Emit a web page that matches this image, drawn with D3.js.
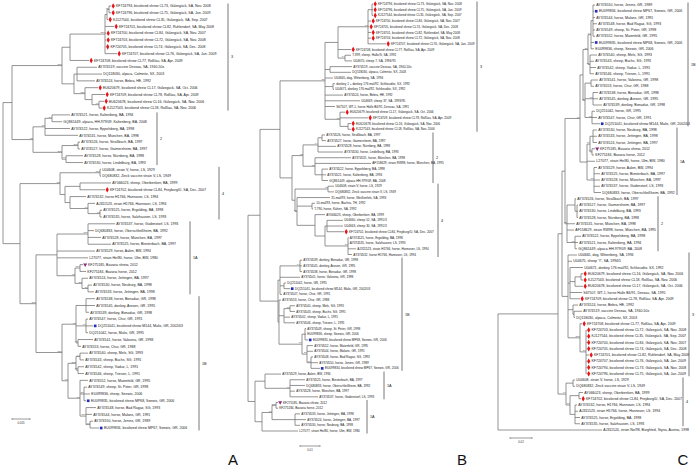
<!DOCTYPE html>
<html><head><meta charset="utf-8">
<script src="https://cdn.jsdelivr.net/npm/d3@7"></script>
<style>body{margin:0;background:#fff}svg{display:block}</style>
</head><body>
<svg id="chart" width="699" height="469"></svg>
<script>
// ---------------- DATA ----------------
const leavesA = [
"KF724794, bicolored shrew CL73, Gülzegück, SA, Nov. 2008","KF724796, bicolored shrew CL75, Gülzegück, SA, Jan. 2009","KJ127544, bicolored shrew CL35, Gülzegück, SA, Sep. 2007","KF724701, bicolored shrew CL82, Ruhlendorf, SA, May 2008","KF724700, bicolored shrew CL84, Gülzegück, SA, Nov. 2007","KF724703, bicolored shrew CL72, Gülzegück, SA, Nov. 2008","KF724705, bicolored shrew CL74, Gülzegück, SA, Dec. 2008","KF724707, bicolored shrew CL76, Gülzegück, SA, Jan. 2009","KF724708, bicolored shrew CL77, Roßlau, SA, Apr. 2009",
"AY374519, vaccine Dessau, SA, 1940-50s","DQ118030, alpaca, Colmnitz, SX, 2003","AY374524, horse, Bebra, HE, 1992",
"EU620679, bicolored shrew CL17, Gülzegück, SA, Oct. 2006","KF724709, bicolored shrew CL78, Roßlau, SA, Apr. 2009","EU620678, bicolored shrew CL16, Gülzegück, SA, Nov. 2006","KJ127543, bicolored shrew CL18, Roßlau, SA, Nov. 2006",
"AY374521, horse, Kaltenberg, BA, 1994","GQ861449, alpaca, HH-979/09, Kaltenberg, BA, 2008","AY374522, horse, Eppelsberg, BA, 1998","AY374531, horse, München, BA, 1998","AY374526, horse, Straßbach, BA, 1997","AY374527, horse, Gaimersheim, BA, 1997","AY374528, horse, Nürnberg, BA, 1998","AY374530, horse, Lindelburg, BA, 1993",
"U04608, strain V, horse, LS, 1929","DQ680832, Zinck vaccine strain V, LS, 1949","AY066023, sheep, Oberbenken, BA, 1999","KF724702, bicolored shrew CL84, Freyburg/U, SA, Dec. 2007","AY374532, horse H1766, Hannover, LS, 1994","AJ311523, strain H1766, Hannover, LS, 1994","AY374525, horse, Ergolding, BA, 1998","AY374535, horse, Salzhausen, LS, 1993",
"AY374537, horse, Güdenstorf, LS, 1993","DQ680833, horse, Oberschleißheim, BA, 1992","AY374528, horse, München, BA, 1997","AY374525, horse, Biesterbach, BA, 1997","AY374529, horse, Aalen, BW, 1994","L27077, strain He/80, horse, Ulm, BW, 1980","KF275185, Bavaria shrew, 2012","KF275184, Bavaria horse, 2012","AY374524, horse, Jettingen, BA, 1997","AY374530, horse, Neuburg, BA, 1998","AY374533, horse, Jettingen, BA, 1998",
"AY374538, horse, Bonaduz, GR, 1998","AY374545, donkey, Arosen, GR, 1995","AY374539, donkey, Bonaduz, GR, 1998","AY374547, horse, Chur, GR, 1991","DQ251041, bicolored shrew M144, Malix, GR, 2002/03","DQ251042, horse, Malix, GR, 1995","AY374541, horse, Valosina, GR, 1998","AY374553, horse, Chur, GR, 1988","AY374540, sheep, Mels, SG, 1993","AY374543, sheep, Buchs, SG, 1991","AY374542, sheep, Vaduz, L, 1991","AY374546, sheep, Triesen, L, 1991","AY374552, horse, Maienfeld, GR, 1995","AY374549, sheep, St. Peter, GR, 1998","EU099836, sheep, Seewis, 2006","EU099835, bicolored shrew MP68, Seewis, GR, 2006","AY374548, horse, Bad Ragaz, SG, 1993","AY374544, horse, Malans, GR, 1991","AY374550, horse, Jenins, GR, 1989","EU099834, bicolored shrew MP67, Seewis, GR, 2006"];
const redA = [1,2,3,4,5,6,7,8,9,13,14,15,16,28];
const blueA = [48,59,63];
const purpleA = [39];
const treeA = "((" +
 "(((((1:2,2:2)70:2,3:1):2,4:9,5:1,6:1,7:0.5,8:12)100:35,9:19):8,((10:20,11:25,12:18):3,(13:13,(14:13,(15:5,16:3)99:7):7)100:11):12)100" +
 ":50," +
 "(((17:18,18:10)84:7,19:25,20:33)76:12,((21:2,22:2)100:16,(23:17,24:17)77:4)100:29)98" +
 ":21):9,(" +
 "((25:1,26:1)100:40,((27:31,28:25):15,(29:16,(30:7,(31:2,32:2)90:12)99:18):5):5)83" +
 ":40,(" +
 "((33:27,34:6,35:13,36:23)100:31,37:38,38:31,((39:3,40:6)100:5,(41:6,(42:4,43:6)79:6)53:7)98:18)" +
 ":21," +
 "(((44:9,45:9,46:3):10,(47:2,48:7,49:2)99:10,(50:15,51:3)97:2)93:14,(((52:8,53:4)94:4,(54:6,55:6)75:2)100:8,(56:8,(57:3,58:6,59:2)86:4,(60:10,61:6,(62:3,63:9)77:4)100:6)97:12)97:6)100" +
 ":26)100:16):17);";
const cladesA = [["3",1,16],["2",17,24],["4",25,32],["1A",33,43],["1B",44,63]];

const leavesB = [
"KF724794, bicolored shrew CL73, Gülzegück, SA, Nov. 2008","KF724796, bicolored shrew CL75, Gülzegück, SA, Jan. 2009","KJ127544, bicolored shrew CL35, Gülzegück, SA, Sep. 2007","KF724700, bicolored shrew CL84, Gülzegück, SA, Nov. 2007","KF724705, bicolored shrew CL74, Gülzegück, SA, Dec. 2008","KF724701, bicolored shrew CL82, Ruhlendorf, SA, May 2008","KF724703, bicolored shrew CL72, Gülzegück, SA, Nov. 2008","KF724707, bicolored shrew CL76, Gülzegück, SA, Jan. 2009","KF724708, bicolored shrew CL77, Roßlau, SA, Apr. 2009",
"T.399, sheep, Halle/S, SA, 1992","U04670, sheep 7, SA, 1994/95","AY374519, vaccine Dessau, SA, 1940-50s","DQ118030, alpaca, Colmnitz, SX, 2003","U04665, dog, Wittenberg, SA, 1994","donkey 1 + donkey 176 mal/92, Schkeuditz, SX, 1992","U04671, donkey 176 mal/92, Schkeuditz, SX, 1992","AY374524, horse, Bebra, HE, 1992","U04669, sheep 37, SA, 1993/95","S67507, WT-1, horse Halle B4/91, Dessau, SA, 1991",
"EU620679, bicolored shrew CL17, Gülzegück, SA, Oct. 2006","KF724709, bicolored shrew CL78, Roßlau, SA, Apr. 2009","EU620678, bicolored shrew CL16, Gülzegück, SA, Nov. 2006","KJ127543, bicolored shrew CL18, Roßlau, SA, Nov. 2006",
"AY374526, horse, Straßbach, BA, 1997","AY374527, horse, Gaimersheim, BA, 1997","AY374528, horse, Nürnberg, BA, 1998","AY374530, horse, Lindelburg, BA, 1993","AY374531, horse, München, BA, 1998","AF158629, strain RW98, horse, München, BA, 1995","AY374522, horse, Eppelsberg, BA, 1998","AY374521, horse, Kaltenberg, BA, 1994","GQ861449, alpaca HH-979/09, BA, 2008",
"U04608, strain V, horse, LS, 1929","DQ680832, Zinck vaccine strain V, LS, 1949","31-mal/93, horse, Weißenfels, SA, 1993","10-mal/93, horse, Bachra, TH, 1992","T.790, horse, Kähen, SA, 1992","AY066023, sheep, Oberbenken, BA, 1999","U04660, sheep 52, SA, 1991/3","U04663, sheep 30, SA, 1991/3","KF724702, bicolored shrew CL84, Freyburg/U, SA, Dec. 2007","AY374525, horse, Ergolding, BA, 1998","AY374535, horse, Salzhausen, LS, 1993","AJ311523, strain H1766, horse, Hannover, LS, 1994","AY374532, horse H1766, Hannover, LS, 1994",
"AY374539, donkey, Bonaduz, GR, 1998","AY374545, donkey, Arosen, GR, 1995","AY374538, horse, Bonaduz, GR, 1998","AY374541, horse, Valosina, GR, 1998","DQ251042, horse, GR, 1995","DQ251041, bicolored shrew M144, Malix, GR, 2002/03","AY374547, horse, Chur, GR, 1991","AY374553, horse, Chur, GR, 1988","AY374540, sheep, Mels, SG, 1993","AY374543, sheep, Buchs, SG, 1991","AY374542, sheep, Vaduz, L, 1991","AY374546, sheep, Triesen, L, 1991","AY374549, sheep, St. Peter, GR, 1998","EU099836, sheep, Seewis, GR, 2006","EU099835, bicolored shrew MP68, Seewis, GR, 2006","AY374552, horse, Maienfeld, GR, 1995","AY374544, horse, Malans, GR, 1991","AY374548, horse, Bad Ragaz, SG, 1993","AY374550, horse, Jenins, GR, 1989","EU099834, bicolored shrew MP67, Seewis, GR, 2006",
"AY374529, horse, Aalen, BW, 1994","AY374525, horse, Biesterbach, BA, 1997","DQ680833, horse, Oberschleißheim, BA, 1992","AY374528, horse, München, BA, 1997","AY374537, horse, Güdenstorf, LS, 1993","KF275185, Bavaria shrew, 2012","KF275184, Bavaria horse, 2012","AY374533, horse, Jettingen, BA, 1998","AY374524, horse, Jettingen, BA, 1997","AY374530, horse, Neuburg, BA, 1998","L27077, strain He/80, horse, Ulm, BW, 1980"];
const redB = [1,2,3,4,5,6,7,8,9,20,21,22,23,41];
const blueB = [51,60,65];
const purpleB = [71];
const treeB = "(((" +
 "((((1:1,2:1,3:1):4,4:3,5:1,6:3,7:3,8:18)97:30,9:13,(10:6,11:7)74:7):13,(12:22,13:21):5,14:8,(15:2,16:1):8,17:18,18:35,19:10,(20:5,21:28,(22:3,23:3):8)71:15)81" +
 ":45,(" +
 "(((24:3,25:4):4,26:18,27:25)94:15,(28:36,29:56,(30:6,31:4,32:6):7)77:12)98" +
 ":11," +
 "((33:6,34:6)92:33,(35:33,(36:3,37:1):15,(38:10,((39:16,40:16,41:17):2,(42:0.5,43:0.5,44:8,45:4)71:23):10):18)71:2)" +
 ":3):12):20," +
 "(((46:2,47:2,48:2)94:20,49:20,(50:2,51:6):4,52:2):2,(53:2,((54:5,55:5)70:6,56:6,57:11):5,((58:1,59:1,60:3):3,(61:6,62:6,(63:2,64:7,65:9)77:4)71:5)71:23):1)" +
 ":18):12,(" +
 "(66:16,(67:15,68:15,69:5,70:28)97:25)" +
 ":10," +
 "(((71:2,72:2)100:4,(73:5,74:11,75:5):23)77:10,76:36)" +
 ":7):7);";
const cladesB = [["3",1,23],["2",24,32],["4",33,45],["1B",46,65],["1A",66,70],["1A",71,76]];

const leavesC = [
"AY374550, horse, Jenins, GR, 1989","EU099834, bicolored shrew MP67, Seewis, GR, 2006","AY374544, horse, Malans, GR, 1991","AY374548, horse, Bad Ragaz, SG, 1993","AY374549, sheep, St. Peter, GR, 1998","AY374552, horse, Maienfeld, GR, 1995","EU099835, bicolored shrew MP68, Seewis, GR, 2006","EU099836, sheep, Seewis, GR, 2006","AY374540, sheep, Mels, SG, 1993","AY374543, sheep, Buchs, SG, 1991","AY374542, sheep, Vaduz, L, 1991","AY374546, sheep, Triesen, L, 1991","AY374541, horse, Valosina, GR, 1998","AY374553, horse, Chur, GR, 1988","AY374538, horse, Bonaduz, GR, 1998","AY374545, donkey, Arosen, GR, 1995","AY374539, donkey, Bonaduz, GR, 1998","DQ251042, horse, GR, 1995","AY374547, horse, Chur, GR, 1991","DQ251041, bicolored shrew M144, Malix, GR, 2002/03",
"AY374530, horse, Neuburg, BA, 1998","AY374533, horse, Jettingen, BA, 1998","AY374524, horse, Jettingen, BA, 1997","KF275185, Bavaria shrew, 2012","KF275184, Bavaria horse, 2012","L27077, strain He/80, horse, Ulm, BW, 1980","AY374529, horse, Aalen, BW, 1994","AY374525, horse, Biesterbach, BA, 1997","AY374528, horse, München, BA, 1997","AY374537, horse, Güdenstorf, LS, 1993","DQ680833, horse, Oberschleißheim, BA, 1992",
"AY374526, horse, Straßbach, BA, 1997","AY374527, horse, Gaimersheim, BA, 1997","AY374530, horse, Lindelburg, BA, 1993","AY374528, horse, Nürnberg, BA, 1998","AY374531, horse, München, BA, 1998","AF158629, strain RW98, horse, München, BA, 1995","AY374522, horse, Eppelsberg, BA, 1998","AY374521, horse, Kaltenberg, BA, 1994","GQ861449, alpaca HH-979/09, BA, 2008",
"U04665, dog, Wittenberg, SA, 1994","U04675, sheep 'Y', SA, 1994/5","U04671, donkey 176 mal/92, Schkeuditz, SX, 1992","EU620679, bicolored shrew CL16, Gülzegück, SA, Nov. 2006","KJ127543, bicolored shrew CL18, Roßlau, SA, Nov. 2006","EU620678, bicolored shrew CL17, Gülzegück, SA, Oct. 2006","S67507, WT-1, horse Halle B4/91, Dessau, SA, 1991","KF724709, bicolored shrew CL78, Roßlau, SA, Apr. 2009","AY374524, horse, Bebra, HE, 1992","AY374519, vaccine Dessau, SA, 1940-50s","DQ118030, alpaca, Colmnitz, SX, 2003","KF724708, bicolored shrew CL77, Roßlau, SA, Apr. 2009","KF724703, bicolored shrew CL72, Gülzegück, SA, Nov. 2008","KJ127544, bicolored shrew CL35, Gülzegück, SA, Sep. 2007","KF724700, bicolored shrew CL84, Gülzegück, SA, Nov. 2007","KF724705, bicolored shrew CL74, Gülzegück, SA, Dec. 2008","KF724701, bicolored shrew CL82, Ruhlendorf, SA, May 2008","KF724707, bicolored shrew CL76, Gülzegück, SA, Jan. 2009","KF724794, bicolored shrew CL73, Gülzegück, SA, Nov. 2008","KF724796, bicolored shrew CL75, Gülzegück, SA, Jan. 2009",
"U04608, strain V, horse, LS, 1929","DQ680832, Zinck vaccine strain V, LS, 1949","AY066023, sheep, Oberbenken, BA, 1999","KF724702, bicolored shrew CL84, Freyburg/U, SA, Dec. 2007","AY374532, horse, H1766, Hannover, LS, 1994","AJ311523, strain H1766, horse, Hannover, LS, 1994","AY374525, horse, Ergolding, BA, 1998","AY374535, horse, Salzhausen, LS, 1993",
"AJ311524, strain No/98, Burgfried, Styria, Austria, 1998"];
const redC = [44,45,46,48,52,53,54,55,56,57,58,59,60,64];
const blueC = [2,7,20];
const purpleC = [24];
const treeC = "((((" +
 "((((((1:2,2:1,3:2,4:4,5:2,6:2):2,7:3,8:3)94:3,(9:7,10:4,11:6,12:4)89:2)89:5,((13:7,14:3):6,(15:5,16:5,17:9)61:8,(18:3,19:5,20:8)97:7)96:2)" +
 ":3," +
 "(((21:4,22:4,23:4):3,(24:3,25:2)94:2)99:3,26:8,(27:3,28:6,29:6,30:6,31:7)70:7)" +
 ":7)96:15," +
 "((32:1,(33:1,34:1,35:1):2):8,36:8,37:7,(38:6,39:3,40:2)71:8)98" +
 ":2):3," +
 "(41:9,42:4,(43:13,((44:2,45:2):6,46:8):5,47:12,48:10):2,(49:5,(50:8,51:1):1):5,(52:2,(53:0.5,54:0.5,55:0.5,56:0.5,57:3,58:0.5,59:0.5,60:0.5)79:6)100:12)" +
 ":6):4," +
 "((61:2,62:2):7,((63:4,64:2):9,(65:2,66:3,67:5,68:5):5)63:4)94" +
 ":8):60,69:104);";
const cladesC = [["1B",1,20],["1A",21,31],["2",32,40],["3",41,60],["4",61,68]];

const scaleBarValues = [18, 20, 22];
const scaleBarLabels = ["0.005", "0.01", "0.02"];
const panelLetters = ["A", "B", "C"];

// ---------------- LAYOUT / STYLE ----------------
const layout = [
  {rootX: 3,   yTop: 6, yBot: 428, font: 3.5, bracketX: [228,157,219,190,199], bar: [12, 419], letter: [233, 465]},
  {rootX: 248, yTop: 4, yBot: 431, font: 3.1, bracketX: [477,433,438,402,384,367], bar: [300, 446], letter: [462, 465]},
  {rootX: 498, yTop: 5, yBot: 430, font: 3.5, bracketX: [688,677,658,689,683], bar: [510, 438], letter: [683, 465]}
];
const panelsData = [
  {tree: treeA, leaves: leavesA, red: redA, blue: blueA, purple: purpleA, clades: cladesA},
  {tree: treeB, leaves: leavesB, red: redB, blue: blueB, purple: purpleB, clades: cladesB},
  {tree: treeC, leaves: leavesC, red: redC, blue: blueC, purple: purpleC, clades: cladesC}
];
const FONT = "'Liberation Sans', Arial, Helvetica, sans-serif";
const LINE = "#707070";

function parseNewick(s) {
  let i = 0;
  function node() {
    const n = {children: [], length: 0, name: ""};
    if (s[i] === "(") {
      i++;
      n.children.push(node());
      while (s[i] === ",") { i++; n.children.push(node()); }
      i++;
    }
    let name = "";
    while (i < s.length && !":,();".includes(s[i])) name += s[i++];
    n.name = name;
    if (s[i] === ":") {
      i++; let num = "";
      while (i < s.length && !",();".includes(s[i])) num += s[i++];
      n.length = +num;
    }
    return n;
  }
  return node();
}

const svg = d3.select("#chart");
svg.append("rect").attr("width", 699).attr("height", 469).attr("fill", "#fff");

panelsData.forEach((P, pi) => {
  const L = layout[pi];
  const root = d3.hierarchy(parseNewick(P.tree), d => d.children.length ? d.children : null);
  root.eachBefore(d => { d.dist = d.parent ? d.parent.dist + d.data.length : 0; });
  const leaves = root.leaves();
  const x = d3.scaleLinear().domain([0, 100]).range([L.rootX, L.rootX + 100]);
  const y = d3.scaleLinear().domain([1, leaves.length]).range([L.yTop, L.yBot]);
  leaves.forEach(d => { d.idx = +d.data.name; d.yy = y(d.idx); });
  root.eachAfter(d => { if (d.children) d.yy = (d.children[0].yy + d.children[d.children.length - 1].yy) / 2; });

  const g = svg.append("g");
  const nodes = root.descendants();
  g.selectAll("line.h").data(nodes.filter(d => d.parent)).join("line")
    .attr("x1", d => x(d.parent.dist)).attr("x2", d => x(d.dist))
    .attr("y1", d => d.yy).attr("y2", d => d.yy)
    .attr("stroke", LINE).attr("stroke-width", 0.75);
  g.selectAll("line.v").data(nodes.filter(d => d.children)).join("line")
    .attr("x1", d => x(d.dist)).attr("x2", d => x(d.dist))
    .attr("y1", d => d.children[0].yy).attr("y2", d => d.children[d.children.length - 1].yy)
    .attr("stroke", LINE).attr("stroke-width", 0.75);
  g.selectAll("text.bs").data(nodes.filter(d => d.children && d.data.name)).join("text")
    .attr("x", d => x(d.dist) - 0.4).attr("y", d => d.yy - 0.7)
    .attr("text-anchor", "end").attr("font-family", FONT).attr("font-size", 2.5).attr("fill", "#444")
    .text(d => d.data.name);

  const markType = idx => P.red.includes(idx) ? "r" : P.blue.includes(idx) ? "b" : P.purple.includes(idx) ? "p" : "";
  const mk = leaves.filter(d => markType(d.idx));
  g.selectAll("path.mk").data(mk).join("path")
    .attr("transform", d => {
      const t = markType(d.idx);
      return `translate(${x(d.dist) + 2.2},${d.yy})` + (t === "p" ? " rotate(180)" : "");
    })
    .attr("d", d => {
      const t = markType(d.idx);
      if (t === "r") return d3.symbol().type(d3.symbolDiamond).size(9)();
      if (t === "b") return d3.symbol().type(d3.symbolSquare).size(7)();
      return d3.symbol().type(d3.symbolTriangle).size(7)();
    })
    .attr("fill", d => ({r: "#e3141b", b: "#1c2fb8", p: "#8a2b83"})[markType(d.idx)]);
  g.selectAll("text.leaf").data(leaves).join("text")
    .attr("x", d => x(d.dist) + (markType(d.idx) ? 5 : 1.3))
    .attr("y", d => d.yy).attr("dy", "0.35em")
    .attr("font-family", FONT).attr("font-size", L.font).attr("fill", "#1a1a1a")
    .text(d => P.leaves[d.idx - 1]);

  P.clades.forEach((c, ci) => {
    const bx = L.bracketX[ci];
    const y1 = y(c[1]) - 2.5, y2 = y(c[2]) + 2.5;
    g.append("line").attr("x1", bx).attr("x2", bx).attr("y1", y1).attr("y2", y2)
      .attr("stroke", "#555").attr("stroke-width", 0.8);
    g.append("text").attr("x", bx + 3).attr("y", (y1 + y2) / 2).attr("dy", "0.35em")
      .attr("font-family", FONT).attr("font-size", 3.8).attr("fill", "#222").text(c[0]);
  });

  const bx0 = L.bar[0], by = L.bar[1];
  const bx1 = bx0 + (x(scaleBarValues[pi]) - x(0));
  g.append("line").attr("x1", bx0).attr("x2", bx1).attr("y1", by).attr("y2", by).attr("stroke", "#555").attr("stroke-width", 0.6);
  [bx0, bx1].forEach(v => g.append("line").attr("x1", v).attr("x2", v).attr("y1", by - 1).attr("y2", by + 1).attr("stroke", "#555").attr("stroke-width", 0.5));
  g.append("text").attr("x", (bx0 + bx1) / 2).attr("y", by + 4.5).attr("text-anchor", "middle")
    .attr("font-family", FONT).attr("font-size", 2.8).attr("fill", "#333").text(scaleBarLabels[pi]);

  svg.append("text").attr("x", L.letter[0]).attr("y", L.letter[1]).attr("text-anchor", "middle")
    .attr("font-family", FONT).attr("font-size", 15).attr("fill", "#111").text(panelLetters[pi]);
});
</script>
</body></html>
